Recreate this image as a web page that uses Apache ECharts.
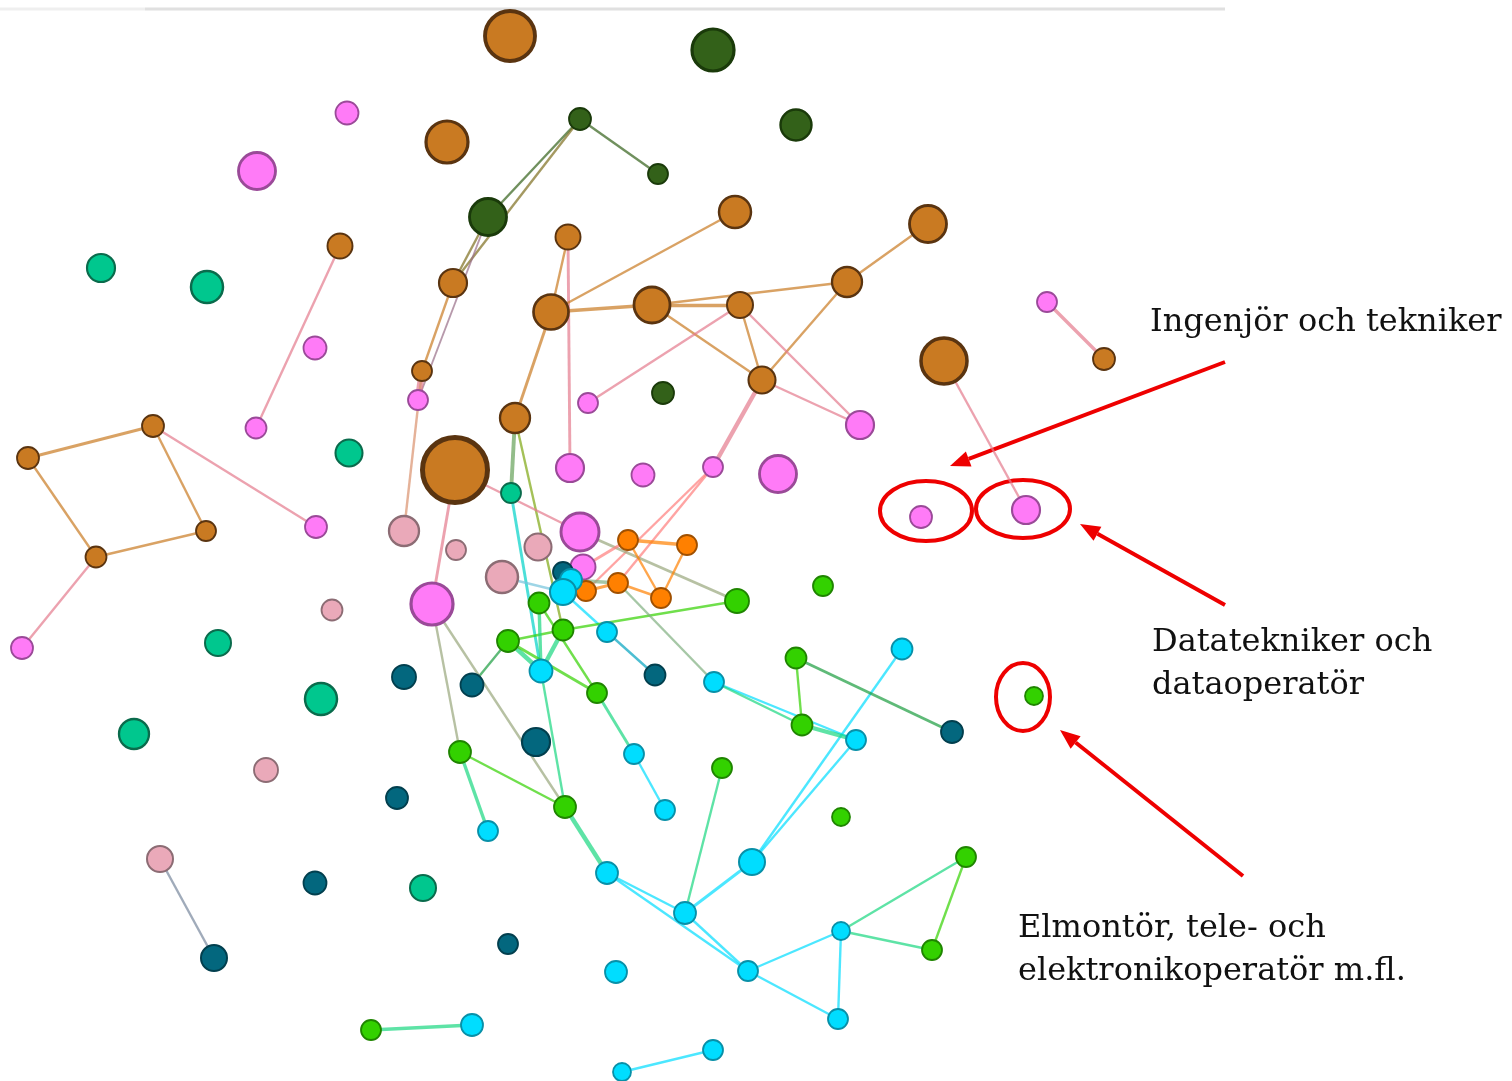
<!DOCTYPE html>
<html>
<head>
<meta charset="utf-8">
<script src="https://cdn.jsdelivr.net/npm/echarts@6/dist/echarts.min.js"></script>
<style>
  html, body { margin: 0; padding: 0; background: #fff; }
  #chart { width: 1512px; height: 1081px; }
</style>
</head>
<body>
<div id="chart"></div>
<script>
// nodes per group: [id, x, y, size]
const brownNodes = [
  ['B1', 510, 36, 50], ['B2', 447, 142, 42], ['B3', 340, 246, 25], ['B4', 735, 212, 32],
  ['B5', 928, 224, 37], ['B6', 568, 237, 25], ['B7', 453, 283, 28], ['B8', 551, 312, 35],
  ['B9', 652, 305, 36], ['B10', 740, 305, 26], ['B11', 847, 282, 30], ['B12', 944, 361, 46],
  ['B13', 1104, 359, 22], ['B14', 422, 371, 20], ['B15', 762, 380, 27], ['B16', 515, 418, 30],
  ['B17', 455, 470, 65], ['B18', 153, 426, 22], ['B19', 28, 458, 22], ['B20', 206, 531, 20],
  ['B21', 96, 557, 21]
];
const darkGreenNodes = [
  ['G1', 713, 50, 42], ['G2', 796, 125, 31], ['G3', 580, 119, 22], ['G4', 658, 174, 20],
  ['G5', 488, 217, 37], ['G6', 663, 393, 22]
];
const magentaNodes = [
  ['M1', 347, 113, 23], ['M2', 257, 171, 37], ['M3', 315, 348, 23], ['M4', 256, 428, 21],
  ['M5', 418, 400, 20], ['M6', 588, 403, 20], ['M7', 860, 425, 28], ['M8', 1047, 302, 20],
  ['M9', 570, 468, 28], ['M10', 643, 475, 23], ['M11', 713, 467, 20], ['M12', 778, 474, 37],
  ['M13', 316, 527, 22], ['M14', 580, 532, 38], ['M15', 432, 604, 42], ['M16', 22, 648, 22],
  ['M17', 921, 517, 22], ['M18', 1026, 510, 28], ['M19', 583, 567, 25]
];
const tealNodes = [
  ['T1', 101, 268, 28], ['T2', 207, 287, 32], ['T3', 349, 453, 27], ['T4', 511, 493, 20],
  ['T5', 218, 643, 26], ['T6', 321, 699, 32], ['T7', 134, 734, 30], ['T8', 423, 888, 26]
];
const pinkNodes = [
  ['P1', 404, 531, 30], ['P2', 456, 550, 20], ['P3', 538, 547, 27], ['P4', 502, 577, 32],
  ['P5', 332, 610, 21], ['P6', 266, 770, 24], ['P7', 160, 859, 26]
];
const petrolNodes = [
  ['D1', 563, 572, 20], ['D2', 404, 677, 24], ['D3', 472, 685, 23], ['D4', 655, 675, 21],
  ['D5', 536, 742, 28], ['D6', 952, 732, 22], ['D7', 397, 798, 22], ['D8', 315, 883, 23],
  ['D9', 214, 958, 26], ['D10', 508, 944, 20]
];
const orangeNodes = [
  ['O1', 628, 540, 20], ['O2', 687, 545, 20], ['O3', 618, 583, 20], ['O4', 661, 598, 20],
  ['O5', 586, 591, 20]
];
const greenNodes = [
  ['N1', 539, 603, 21], ['N2', 563, 630, 21], ['N3', 508, 641, 22], ['N4', 737, 601, 24],
  ['N5', 597, 693, 20], ['N6', 823, 586, 20], ['N7', 796, 658, 21], ['N8', 802, 725, 21],
  ['N9', 460, 752, 22], ['N10', 565, 807, 22], ['N11', 722, 768, 20], ['N12', 841, 817, 18],
  ['N13', 1034, 696, 18], ['N14', 966, 857, 20], ['N15', 932, 950, 20], ['N16', 371, 1030, 20]
];
const cyanNodes = [
  ['C1', 571, 580, 22], ['C2', 563, 592, 26], ['C3', 607, 632, 20], ['C4', 541, 671, 23],
  ['C5', 714, 682, 20], ['C6', 902, 649, 21], ['C7', 856, 740, 20], ['C8', 634, 754, 20],
  ['C9', 665, 810, 20], ['C10', 488, 831, 20], ['C11', 607, 873, 22], ['C12', 752, 862, 26],
  ['C13', 685, 913, 22], ['C14', 841, 931, 18], ['C15', 748, 971, 20], ['C16', 616, 972, 22],
  ['C17', 838, 1019, 20], ['C18', 472, 1025, 22], ['C19', 713, 1050, 20], ['C20', 622, 1072, 18]
];

// links: [source, target, weight]
const links = [
  ['G3', 'G5', 2], ['G3', 'G4', 2], ['G3', 'B7', 2], ['G5', 'B7', 2], ['G5', 'M5', 1.5],
  ['B7', 'B14', 2], ['B14', 'M5', 6], ['B14', 'P1', 2], ['B3', 'M4', 2],
  ['B6', 'B8', 2], ['B6', 'M9', 2.5], ['B8', 'B4', 2], ['B8', 'B9', 3], ['B8', 'B16', 2.5],
  ['B9', 'B10', 3], ['B9', 'B11', 2], ['B9', 'B15', 2], ['B10', 'B15', 2], ['B11', 'B15', 2],
  ['B11', 'B5', 2], ['B10', 'M6', 2], ['B10', 'M7', 2], ['B15', 'M7', 2], ['B15', 'M11', 4],
  ['M11', 'O3', 2], ['M11', 'O5', 2], ['B16', 'T4', 3.5], ['B16', 'N2', 2], ['T4', 'C4', 2.5],
  ['B17', 'M14', 2], ['B17', 'M15', 2.5], ['B18', 'B19', 2.5], ['B19', 'B21', 2],
  ['B21', 'B20', 2], ['B20', 'B18', 2], ['B18', 'M13', 2], ['B21', 'M16', 2],
  ['B12', 'M18', 2], ['M8', 'B13', 3], ['M14', 'N4', 2.5], ['M19', 'O1', 2.5],
  ['O1', 'O2', 3], ['O2', 'O4', 2], ['O1', 'O4', 2], ['O3', 'O4', 2.5], ['O3', 'O5', 2.5],
  ['C1', 'O3', 3], ['P4', 'C2', 2], ['C2', 'C3', 2], ['C3', 'D4', 2],
  ['N3', 'N2', 2], ['N2', 'N4', 2], ['N3', 'D3', 2], ['N1', 'C4', 3], ['N2', 'C4', 4],
  ['N3', 'C4', 4], ['N1', 'N5', 2], ['N3', 'N5', 2.5], ['C4', 'N10', 2], ['N5', 'C8', 2.5],
  ['C8', 'C9', 2], ['M15', 'N9', 2], ['M15', 'N10', 2], ['N9', 'N10', 2], ['N9', 'C10', 3],
  ['N10', 'C11', 4], ['C11', 'C13', 2], ['C11', 'C15', 2], ['C13', 'C15', 2], ['C13', 'C12', 2.5],
  ['C13', 'N11', 2], ['C12', 'C6', 2], ['C12', 'C7', 2], ['O3', 'C5', 2], ['C5', 'C7', 2],
  ['C5', 'N8', 2], ['N8', 'C7', 4], ['N7', 'N8', 2], ['N7', 'D6', 2.5],
  ['N14', 'C14', 2], ['N14', 'N15', 2], ['C14', 'N15', 2], ['C14', 'C15', 2], ['C14', 'C17', 2],
  ['C15', 'C17', 2], ['N16', 'C18', 3], ['C19', 'C20', 2], ['P7', 'D9', 2]
];

// annotation texts
const labelTexts = [
  'Ingenjör och tekniker',
  'Datatekniker och\ndataoperatör',
  'Elmontör, tele- och\nelektronikoperatör m.fl.'
];

// group colours: fill, border
const groupStyle = {
  brown: ['#c97a22', '#5a3410'],
  darkGreen: ['#336119', '#1a3a0a'],
  magenta: ['#ff7bf7', '#9a4a98'],
  teal: ['#00c78e', '#0a6b4c'],
  pink: ['#eaa9b9', '#8c6c74'],
  petrol: ['#03677e', '#023f4e'],
  orange: ['#ff8000', '#a05000'],
  green: ['#33d100', '#1f8500'],
  cyan: ['#00ddff', '#0890a8']
};
const groups = {
  brown: brownNodes, darkGreen: darkGreenNodes, magenta: magentaNodes, teal: tealNodes,
  pink: pinkNodes, petrol: petrolNodes, orange: orangeNodes, green: greenNodes, cyan: cyanNodes
};

const nodeGroup = {};
const nodes = [];
Object.keys(groups).forEach(g => {
  groups[g].forEach(n => {
    nodeGroup[n[0]] = g;
    nodes.push({
      name: n[0],
      value: [n[1], n[2]],
      symbolSize: n[3],
      itemStyle: {
        color: groupStyle[g][0],
        borderColor: groupStyle[g][1],
        borderWidth: Math.max(1.8, n[3] / 13)
      }
    });
  });
});

function hexRgb(h) {
  return [parseInt(h.slice(1, 3), 16), parseInt(h.slice(3, 5), 16), parseInt(h.slice(5, 7), 16)];
}
// edge colour = mix of the two node colours
function mixColor(a, b) {
  const c1 = hexRgb(groupStyle[nodeGroup[a]][0]);
  const c2 = hexRgb(groupStyle[nodeGroup[b]][0]);
  return 'rgb(' + [0, 1, 2].map(i => Math.round((c1[i] + c2[i]) / 2)).join(',') + ')';
}

const edges = links.map(l => ({
  source: l[0],
  target: l[1],
  lineStyle: { width: l[2] + 0.4, color: mixColor(l[0], l[1]), opacity: 0.7, curveness: 0 }
}));

// red arrows and ellipses
const red = '#ee0000';
function arrow(x1, y1, x2, y2) {
  const dx = x2 - x1, dy = y2 - y1;
  const len = Math.sqrt(dx * dx + dy * dy);
  const ux = dx / len, uy = dy / len;
  const L = 20, W = 8;
  const bx = x2 - ux * L, by = y2 - uy * L;
  return [
    { type: 'line', shape: { x1: x1, y1: y1, x2: bx, y2: by }, style: { stroke: red, lineWidth: 4 } },
    { type: 'polygon', shape: { points: [[x2, y2], [bx - uy * W, by + ux * W], [bx + uy * W, by - ux * W]] }, style: { fill: red } }
  ];
}
function ring(cx, cy, rx, ry) {
  return { type: 'ellipse', shape: { cx: cx, cy: cy, rx: rx, ry: ry }, style: { fill: null, stroke: red, lineWidth: 4 } };
}
const textFont = { fontFamily: '"DejaVu Serif", serif', fontSize: 32, fill: '#111', lineHeight: 43 };

const graphic = [
  { type: 'line', shape: { x1: 0, y1: 9, x2: 145, y2: 9 }, style: { stroke: '#efefef', lineWidth: 3 } },
  { type: 'line', shape: { x1: 145, y1: 9, x2: 1225, y2: 9 }, style: { stroke: '#e0e0e0', lineWidth: 3 } },
  ring(926, 511, 46, 30),
  ring(1023, 509, 47, 29),
  ring(1023, 697, 27, 34)
]
  .concat(arrow(1225, 362, 950, 466))
  .concat(arrow(1225, 605, 1080, 524))
  .concat(arrow(1243, 876, 1060, 730))
  .concat([
    { type: 'text', left: 1150, top: 301, style: Object.assign({ text: labelTexts[0] }, textFont) },
    { type: 'text', left: 1152, top: 621, style: Object.assign({ text: labelTexts[1] }, textFont) },
    { type: 'text', left: 1018, top: 907, style: Object.assign({ text: labelTexts[2] }, textFont) }
  ]);

const myChart = echarts.init(document.getElementById('chart'));
myChart.setOption({
  animation: false,
  grid: { left: 0, right: 0, top: 0, bottom: 0 },
  xAxis: { type: 'value', min: 0, max: 1512, show: false },
  yAxis: { type: 'value', min: 0, max: 1081, inverse: true, show: false },
  graphic: graphic,
  series: [
    {
      type: 'graph',
      coordinateSystem: 'cartesian2d',
      symbol: 'circle',
      data: nodes,
      links: edges,
      label: { show: false },
      emphasis: { disabled: true },
      z: 2
    }
  ]
});
</script>
</body>
</html>
